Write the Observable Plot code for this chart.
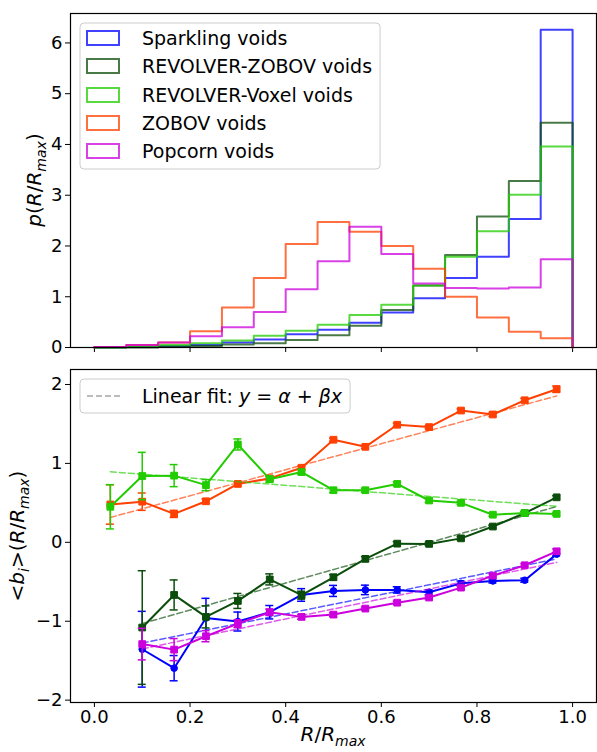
<!DOCTYPE html>
<html>
<head>
<meta charset="utf-8">
<script src="https://cdn.jsdelivr.net/npm/d3@7"></script>
<script src="https://cdn.jsdelivr.net/npm/@observablehq/plot@0.6"></script>
<style>
  body { margin: 0; background: #fff; }
  #chart svg { display: block; }
</style>
</head>
<body>
<div id="chart"></div>
<script>
// ---------- DATA ----------
const seriesNames = ["Sparkling voids", "REVOLVER-ZOBOV voids", "REVOLVER-Voxel voids", "ZOBOV voids", "Popcorn voids"];
const seriesColors = ["#0000ff", "#0b4d0b", "#22cc00", "#ff4000", "#cc00dd"];
const seriesSymbols = ["circle", "square", "square", "square", "square"];

// histogram bin edges (15 bins in R/Rmax)
const binEdges = [0, 0.0667, 0.1333, 0.2, 0.2667, 0.3333, 0.4, 0.4667, 0.5333, 0.6, 0.6667, 0.7333, 0.8, 0.8667, 0.9333, 1.0];
const binCenters = [0.0333, 0.1, 0.1667, 0.2333, 0.3, 0.3667, 0.4333, 0.5, 0.5667, 0.6333, 0.7, 0.7667, 0.8333, 0.9, 0.9667];

// top panel: normalised histograms p(R/Rmax)
const histSparkling = [0.0, 0.01, 0.03, 0.05, 0.10, 0.16, 0.26, 0.35, 0.49, 0.69, 0.97, 1.37, 1.79, 2.53, 6.26];
const histRevZobov  = [0.0, 0.0, 0.01, 0.03, 0.06, 0.085, 0.15, 0.24, 0.43, 0.74, 1.22, 1.82, 2.58, 3.28, 4.43];
const histRevVoxel  = [0.0, 0.01, 0.05, 0.085, 0.14, 0.23, 0.33, 0.45, 0.64, 0.84, 1.22, 1.79, 2.29, 3.01, 3.96];
const histZobov     = [0.01, 0.05, 0.10, 0.32, 0.79, 1.37, 2.04, 2.47, 2.28, 2.00, 1.55, 1.00, 0.59, 0.31, 0.18];
const histPopcorn   = [0.01, 0.05, 0.10, 0.22, 0.40, 0.70, 1.15, 1.70, 2.38, 1.84, 1.26, 1.17, 1.16, 1.18, 1.74];

// bottom panel: mean bias <b_i>(R/Rmax) and errors
const biasSparkling = [null, -1.355, -1.595, -0.96, -1.004, -0.886, -0.667, -0.616, -0.603, -0.603, -0.633, -0.52, -0.49, -0.48, -0.15];
const errSparkling  = [null, 0.48, 0.16, 0.25, 0.12, 0.085, 0.08, 0.07, 0.06, 0.04, 0.03, 0.03, 0.025, 0.025, 0.02];
const biasRevZobov  = [null, -1.08, -0.667, -0.945, -0.743, -0.47, -0.67, -0.443, -0.21, -0.017, -0.02, 0.05, 0.20, 0.37, 0.57];
const errRevZobov   = [null, 0.72, 0.19, 0.14, 0.095, 0.07, 0.05, 0.035, 0.03, 0.025, 0.02, 0.02, 0.02, 0.02, 0.02];
const biasRevVoxel  = [0.45, 0.84, 0.845, 0.725, 1.24, 0.80, 0.89, 0.66, 0.66, 0.74, 0.53, 0.50, 0.35, 0.37, 0.36];
const errRevVoxel   = [0.28, 0.30, 0.14, 0.07, 0.07, 0.04, 0.03, 0.03, 0.025, 0.025, 0.025, 0.02, 0.02, 0.02, 0.02];
const biasZobov     = [0.48, 0.515, 0.36, 0.52, 0.74, 0.81, 0.945, 1.30, 1.21, 1.49, 1.46, 1.67, 1.62, 1.80, 1.94];
const errZobov      = [0.25, 0.11, 0.045, 0.03, 0.025, 0.02, 0.02, 0.02, 0.02, 0.02, 0.02, 0.02, 0.025, 0.025, 0.04];
const biasPopcorn   = [null, -1.29, -1.36, -1.19, -1.03, -0.886, -0.945, -0.916, -0.84, -0.765, -0.70, -0.574, -0.422, -0.291, -0.114];
const errPopcorn    = [null, 0.20, 0.14, 0.07, 0.05, 0.04, 0.03, 0.025, 0.02, 0.02, 0.02, 0.02, 0.02, 0.02, 0.03];

// linear fits y = alpha + beta x
const fitAlpha = [-1.40, -1.20, 0.91, 0.26, -1.477];
const fitBeta  = [1.23, 1.71, -0.47, 1.65, 1.265];

const xTicks = [0, 0.2, 0.4, 0.6, 0.8, 1.0];
const yTicksTop = [0, 1, 2, 3, 4, 5, 6];
const yTicksBottom = [-2, -1, 0, 1, 2];

const hists = [histSparkling, histRevZobov, histRevVoxel, histZobov, histPopcorn];
const biases = [biasSparkling, biasRevZobov, biasRevVoxel, biasZobov, biasPopcorn];
const errs = [errSparkling, errRevZobov, errRevVoxel, errZobov, errPopcorn];

// ---------- HELPERS ----------
const FONT = "DejaVu Sans";
const FS = 18;      // tick labels
const FS_LEG = 19;  // legend text
const FS_LAB = 20;  // axis labels
const fmtInt = d => (d < 0 ? "\u2212" + Math.abs(d) : String(d));

function mathText(parent, x, y, rotate, parts, size) {
  const t = parent.append("text")
    .attr("transform", `translate(${x},${y}) rotate(${rotate})`)
    .attr("text-anchor", "middle")
    .attr("font-family", FONT)
    .attr("font-size", size)
    .attr("fill", "black");
  let shift = 0;
  for (const p of parts) {
    const s = t.append("tspan").text(p.t);
    if (p.i) s.attr("font-style", "italic");
    const target = p.sub ? size * 0.27 : 0;
    if (target !== shift) { s.attr("dy", target - shift); shift = target; }
    if (p.sub) s.attr("font-size", size * 0.7);
  }
  return t;
}

const chart = document.getElementById("chart");

// ---------- TOP PANEL ----------
const topMarks = [];
hists.forEach((h, s) => {
  const rows = [{x: binEdges[0], y: 0}];
  h.forEach((v, i) => rows.push({x: binEdges[i], y: v}));
  rows.push({x: binEdges[binEdges.length - 1], y: h[h.length - 1]});
  rows.push({x: binEdges[binEdges.length - 1], y: 0});
  topMarks.push(Plot.line(rows, {x: "x", y: "y", curve: "step-after", stroke: seriesColors[s], strokeWidth: 2, strokeOpacity: 0.75}));
});
topMarks.push(Plot.frame({stroke: "black", strokeWidth: 1.2}));

const topSvg = Plot.plot({
  width: 597, height: 360,
  marginLeft: 70, marginRight: 1, marginTop: 13, marginBottom: 13,
  style: {fontFamily: FONT, fontSize: FS + "px", color: "black", background: "white", overflow: "visible"},
  x: {domain: [-0.05, 1.05], ticks: xTicks, tickFormat: () => "", tickSize: 5, label: null},
  y: {domain: [0, 6.58], ticks: yTicksTop, tickFormat: fmtInt, tickSize: 5, tickPadding: 3, label: null},
  marks: topMarks
});
chart.appendChild(topSvg);

// ---------- BOTTOM PANEL ----------
const botMarks = [];
const drawOrder = [0, 1, 3, 2, 4];
drawOrder.forEach(s => {
  const rows = binCenters.map((x, i) => ({x, y: biases[s][i], e: errs[s][i]})).filter(d => d.y != null);
  const c = seriesColors[s];
  const xs = [rows[0].x, rows[rows.length - 1].x];
  const fit = xs.map(x => ({x, y: fitAlpha[s] + fitBeta[s] * x}));
  botMarks.push(Plot.line(fit, {x: "x", y: "y", stroke: c, strokeWidth: 1.5, strokeOpacity: 0.65, strokeDasharray: "6,3"}));
  botMarks.push(Plot.line(rows, {x: "x", y: "y", stroke: c, strokeWidth: 2}));
  botMarks.push(Plot.ruleX(rows, {x: "x", y1: d => d.y - d.e, y2: d => d.y + d.e, stroke: c, strokeWidth: 1.5}));
  botMarks.push(Plot.ruleY(rows, {x1: "x", x2: "x", y: d => d.y + d.e, insetLeft: -4, insetRight: -4, stroke: c, strokeWidth: 1.5}));
  botMarks.push(Plot.ruleY(rows, {x1: "x", x2: "x", y: d => d.y - d.e, insetLeft: -4, insetRight: -4, stroke: c, strokeWidth: 1.5}));
  botMarks.push(Plot.dot(rows, {x: "x", y: "y", symbol: seriesSymbols[s], r: seriesSymbols[s] === "circle" ? 3.3 : 3.8, fill: c, stroke: c, strokeWidth: 1}));
});
botMarks.push(Plot.frame({stroke: "black", strokeWidth: 1.2}));

const botSvg = Plot.plot({
  width: 597, height: 392,
  marginLeft: 70, marginRight: 1, marginTop: 9, marginBottom: 50,
  style: {fontFamily: FONT, fontSize: FS + "px", color: "black", background: "white", overflow: "visible"},
  x: {domain: [-0.05, 1.05], ticks: xTicks, tickFormat: d => d.toFixed(1), tickSize: 5, tickPadding: 3, label: null},
  y: {domain: [-2.03, 2.19], ticks: yTicksBottom, tickFormat: fmtInt, tickSize: 5, tickPadding: 3, label: null},
  marks: botMarks
});
chart.appendChild(botSvg);

// ---------- LEGENDS & AXIS LABELS ----------
const gTop = d3.select(topSvg);
{
  const g = gTop.append("g").attr("text-anchor", "start");
  const rowY = [38, 66, 95, 123, 151];
  const box = g.append("rect").attr("x", 80).attr("y", 23).attr("height", 146).attr("rx", 4)
    .attr("fill", "white").attr("fill-opacity", 0.8).attr("stroke", "#cccccc").attr("stroke-width", 1);
  let maxEnd = 0;
  seriesNames.forEach((name, s) => {
    g.append("rect").attr("x", 87).attr("y", rowY[s] - 7).attr("width", 32).attr("height", 14)
      .attr("fill", "none").attr("stroke", seriesColors[s]).attr("stroke-width", 2).attr("stroke-opacity", 0.75);
    const t = g.append("text").attr("x", 142).attr("y", rowY[s] + 7).attr("text-anchor", "start")
      .attr("font-family", FONT).attr("font-size", FS_LEG).attr("fill", "black").text(name);
    maxEnd = Math.max(maxEnd, 142 + t.node().getComputedTextLength());
  });
  box.attr("width", maxEnd + 8 - 80);
  mathText(gTop, 41, 180, -90, [
    {t: "p", i: true}, {t: "("}, {t: "R", i: true}, {t: "/"}, {t: "R", i: true}, {t: "max", i: true, sub: true}, {t: ")"}
  ], FS_LAB);
}

const gBot = d3.select(botSvg);
{
  const g = gBot.append("g").attr("text-anchor", "start");
  const box = g.append("rect").attr("x", 80).attr("y", 19).attr("height", 34).attr("rx", 4)
    .attr("fill", "white").attr("fill-opacity", 0.8).attr("stroke", "#cccccc").attr("stroke-width", 1);
  g.append("line").attr("x1", 87).attr("x2", 120).attr("y1", 36).attr("y2", 36)
    .attr("stroke", "#808080").attr("stroke-opacity", 0.7).attr("stroke-width", 1.5).attr("stroke-dasharray", "6,3");
  const t = g.append("text").attr("x", 142).attr("y", 43).attr("text-anchor", "start")
    .attr("font-family", FONT).attr("font-size", FS_LEG).attr("fill", "black");
  t.append("tspan").text("Linear fit: ");
  t.append("tspan").attr("font-style", "italic").text("y");
  t.append("tspan").text(" = ");
  t.append("tspan").attr("font-style", "italic").text("\u03b1");
  t.append("tspan").text(" + ");
  t.append("tspan").attr("font-style", "italic").text("\u03b2x");
  box.attr("width", 142 + t.node().getComputedTextLength() + 8 - 80);

  mathText(gBot, 24, 176, -90, [
    {t: "<"}, {t: "b", i: true}, {t: "i", i: true, sub: true}, {t: ">"}, {t: "("}, {t: "R", i: true}, {t: "/"}, {t: "R", i: true}, {t: "max", i: true, sub: true}, {t: ")"}
  ], FS_LAB);
  mathText(gBot, 333, 381, 0, [
    {t: "R", i: true}, {t: "/"}, {t: "R", i: true}, {t: "max", i: true, sub: true}
  ], FS_LAB);
}
</script>
</body>
</html>
